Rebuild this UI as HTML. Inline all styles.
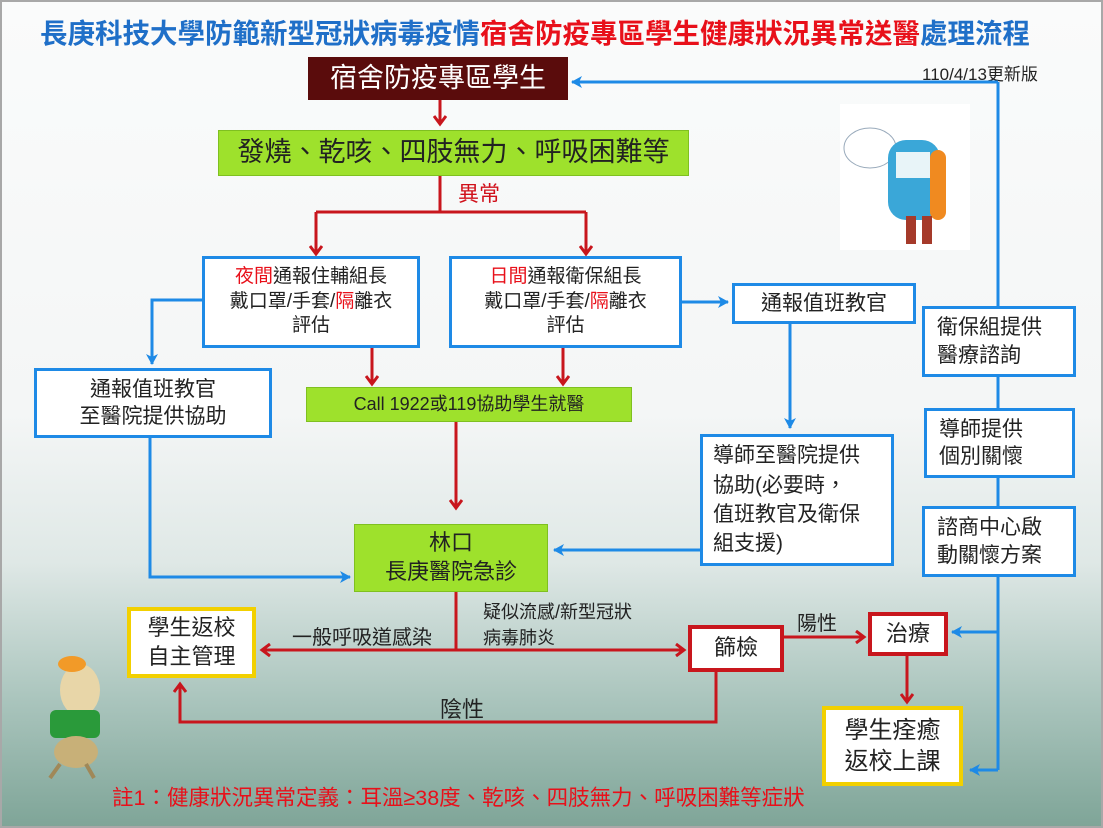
<!DOCTYPE html>
<html><head><meta charset="utf-8"><style>
body{margin:0;width:1103px;height:828px;overflow:hidden;font-family:"Liberation Sans","Noto Sans CJK TC",sans-serif;}
#bg{position:absolute;left:0;top:0;width:1103px;height:828px;box-sizing:border-box;border:2px solid #a8a8a8;
background:linear-gradient(180deg,#fafbfb 0%,#f4f6f6 50%,#dfe8e6 68%,#a9c4bc 85%,#7fa598 100%);}
.t{position:absolute;white-space:nowrap;}
.b{position:absolute;box-sizing:border-box;background:#fff;display:flex;flex-direction:column;align-items:center;justify-content:center;text-align:center;color:#222;line-height:1.3;}
.bl{border:3px solid #1e8ae6;}
.ye{border:4px solid #f2d000;}
.rd{border:4px solid #c8161d;}
.gr{background:#9ee12c;border:1px solid #7fc020;}
</style></head><body><div id="bg"></div>
<div class="t" style="left:40px;top:11px;font-size:27.5px;font-weight:bold;color:#1f6fc8;">長庚科技大學防範新型冠狀病毒疫情<span style="color:#e8101a">宿舍防疫專區學生健康狀況異常送醫</span>處理流程</div>
<div class="t" style="left:922px;top:60px;font-size:17px;color:#222">110/4/13更新版</div>

<svg style="position:absolute;left:0;top:0" width="1103" height="828">
<defs>
<marker id="ab" markerWidth="14" markerHeight="14" refX="10" refY="7" orient="auto" markerUnits="userSpaceOnUse"><path d="M0,1 L11,7 L0,13 L3,7z" fill="#1e8ae6"/></marker>
<marker id="arr" markerWidth="14" markerHeight="14" refX="10" refY="7" orient="auto" markerUnits="userSpaceOnUse"><path d="M2,1 L10,7 L2,13" fill="none" stroke="#c8161d" stroke-width="3"/></marker>
</defs>
<g stroke="#c8161d" stroke-width="3" fill="none">
<line x1="440" y1="100" x2="440" y2="124" marker-end="url(#arr)"/>
<polyline points="440,176 440,212"/>
<polyline points="316,212 586,212"/>
<line x1="316" y1="212" x2="316" y2="254" marker-end="url(#arr)"/>
<line x1="586" y1="212" x2="586" y2="254" marker-end="url(#arr)"/>
<line x1="372" y1="348" x2="372" y2="384" marker-end="url(#arr)"/>
<line x1="563" y1="348" x2="563" y2="384" marker-end="url(#arr)"/>
<line x1="456" y1="422" x2="456" y2="508" marker-end="url(#arr)"/>
<line x1="456" y1="592" x2="456" y2="650"/>
<line x1="456" y1="650" x2="262" y2="650" marker-end="url(#arr)"/>
<line x1="456" y1="650" x2="684" y2="650" marker-end="url(#arr)"/>
<line x1="784" y1="637" x2="864" y2="637" marker-end="url(#arr)"/>
<line x1="907" y1="656" x2="907" y2="702" marker-end="url(#arr)"/>
<polyline points="716,672 716,722 180,722 180,684" marker-end="url(#arr)"/>
</g>
<g stroke="#1e8ae6" stroke-width="3" fill="none">
<line x1="998" y1="82" x2="998" y2="770"/>
<line x1="998" y1="82" x2="572" y2="82" marker-end="url(#ab)"/>
<line x1="998" y1="632" x2="952" y2="632" marker-end="url(#ab)"/>
<line x1="998" y1="770" x2="970" y2="770" marker-end="url(#ab)"/>
<line x1="682" y1="302" x2="728" y2="302" marker-end="url(#ab)"/>
<polyline points="202,300 152,300 152,364" marker-end="url(#ab)"/>
<polyline points="150,438 150,577 350,577" marker-end="url(#ab)"/>
<line x1="790" y1="324" x2="790" y2="428" marker-end="url(#ab)"/>
<line x1="700" y1="550" x2="554" y2="550" marker-end="url(#ab)"/>
</g>
<rect x="840" y="104" width="130" height="146" fill="#fff"/>
<ellipse cx="870" cy="148" rx="26" ry="20" fill="#fff" stroke="#9ab" stroke-width="1"/>
<rect x="888" y="140" width="52" height="80" rx="18" fill="#3aa7d8"/>
<rect x="930" y="150" width="16" height="70" rx="8" fill="#f08a20"/>
<rect x="896" y="152" width="34" height="26" fill="#e8f4f8"/>
<rect x="906" y="216" width="10" height="28" fill="#a53a2a"/><rect x="922" y="216" width="10" height="28" fill="#a53a2a"/>
<ellipse cx="80" cy="690" rx="20" ry="26" fill="#e8d6a8"/>
<ellipse cx="72" cy="664" rx="14" ry="8" fill="#f29a28"/>
<rect x="50" y="710" width="50" height="28" rx="6" fill="#2a9a3a"/>
<ellipse cx="76" cy="752" rx="22" ry="16" fill="#c8b078"/>
<line x1="60" y1="764" x2="50" y2="778" stroke="#a08858" stroke-width="4"/>
<line x1="86" y1="764" x2="94" y2="778" stroke="#a08858" stroke-width="4"/>
</svg>

<div class="b" style="left:308px;top:57px;width:260px;height:43px;background:#5a0c0c;color:#fff;font-size:27px;">宿舍防疫專區學生</div>
<div class="b gr" style="left:218px;top:130px;width:471px;height:46px;font-size:27px;">發燒、乾咳、四肢無力、呼吸困難等</div>
<div class="t" style="left:458px;top:178px;font-size:21px;color:#d0101a">異常</div>
<div class="b bl" style="left:202px;top:256px;width:218px;height:92px;font-size:19px;"><div><span style="color:#e8101a">夜間</span>通報住輔組長</div><div>戴口罩/手套/<span style="color:#e8101a">隔</span>離衣</div><div>評估</div></div>
<div class="b bl" style="left:449px;top:256px;width:233px;height:92px;font-size:19px;"><div><span style="color:#e8101a">日間</span>通報衛保組長</div><div>戴口罩/手套/<span style="color:#e8101a">隔</span>離衣</div><div>評估</div></div>
<div class="b bl" style="left:732px;top:283px;width:184px;height:41px;font-size:21px;">通報值班教官</div>
<div class="b bl" style="left:34px;top:368px;width:238px;height:70px;font-size:21px;"><div>通報值班教官</div><div>至醫院提供協助</div></div>
<div class="b gr" style="left:306px;top:387px;width:326px;height:35px;font-size:18px;">Call 1922或119協助學生就醫</div>
<div class="b bl" style="left:700px;top:434px;width:194px;height:132px;font-size:21px;align-items:flex-start;padding-left:10px;text-align:left;line-height:1.4"><div>導師至醫院提供</div><div>協助(必要時，</div><div>值班教官及衛保</div><div>組支援)</div></div>
<div class="b gr" style="left:354px;top:524px;width:194px;height:68px;font-size:22px;"><div>林口</div><div>長庚醫院急診</div></div>
<div class="b bl" style="left:922px;top:306px;width:154px;height:71px;font-size:21px;align-items:flex-start;padding-left:12px;text-align:left"><div>衛保組提供</div><div>醫療諮詢</div></div>
<div class="b bl" style="left:924px;top:408px;width:151px;height:70px;font-size:21px;align-items:flex-start;padding-left:12px;text-align:left"><div>導師提供</div><div>個別關懷</div></div>
<div class="b bl" style="left:922px;top:506px;width:154px;height:71px;font-size:21px;align-items:flex-start;padding-left:12px;text-align:left"><div>諮商中心啟</div><div>動關懷方案</div></div>
<div class="b ye" style="left:127px;top:607px;width:129px;height:71px;font-size:22px;"><div>學生返校</div><div>自主管理</div></div>
<div class="b rd" style="left:688px;top:625px;width:96px;height:47px;font-size:22px;">篩檢</div>
<div class="b rd" style="left:868px;top:612px;width:80px;height:44px;font-size:22px;">治療</div>
<div class="b ye" style="left:822px;top:706px;width:141px;height:80px;font-size:24px;"><div>學生痊癒</div><div>返校上課</div></div>
<div class="t" style="left:292px;top:621px;font-size:20px;color:#222">一般呼吸道感染</div>
<div class="t" style="left:483px;top:599px;font-size:18px;color:#222;line-height:26px">疑似流感/新型冠狀<br>病毒肺炎</div>
<div class="t" style="left:797px;top:607px;font-size:20px;color:#222">陽性</div>
<div class="t" style="left:440px;top:692px;font-size:22px;color:#222">陰性</div>
<div class="t" style="left:112px;top:781px;font-size:21.5px;color:#e8101a">註1：健康狀況異常定義：耳溫≥38度、乾咳、四肢無力、呼吸困難等症狀</div>
</body></html>
